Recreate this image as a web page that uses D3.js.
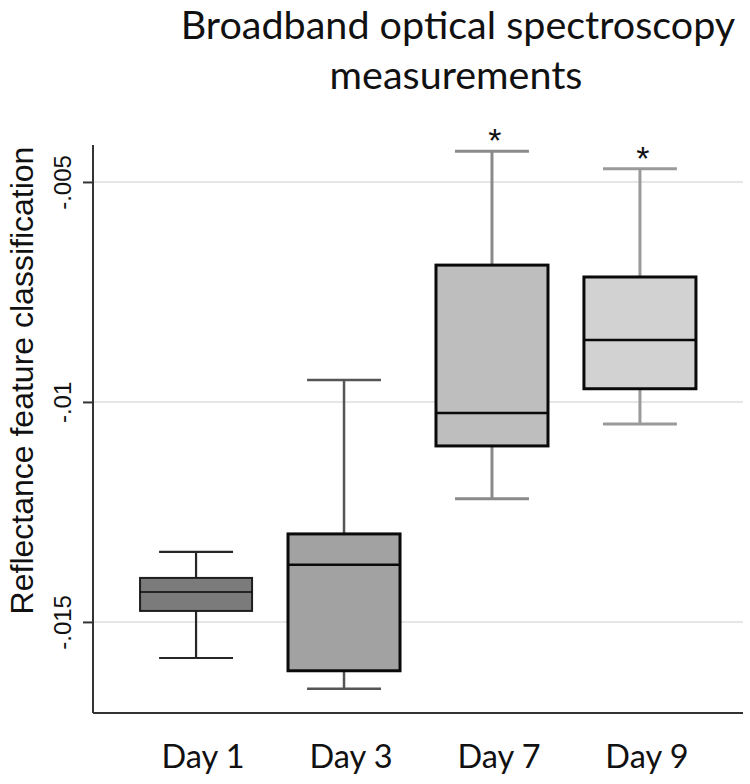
<!DOCTYPE html>
<html>
<head>
<meta charset="utf-8">
<script src="https://cdn.jsdelivr.net/npm/d3@7"></script>
<style>
  html, body { margin: 0; padding: 0; background: #fff; }
  svg { display: block; }
</style>
</head>
<body>
<svg id="chart" width="750" height="784"></svg>
<script>
// ---- data ----
const categories = ["Day 1", "Day 3", "Day 7", "Day 9"];
const whiskerLow  = [-0.01582, -0.01652, -0.01220, -0.01050];
const q1          = [-0.01475, -0.01611, -0.01100, -0.00970];
const medians     = [-0.01432, -0.01370, -0.01025, -0.00859];
const q3          = [-0.01400, -0.01300, -0.00689, -0.00716];
const whiskerHigh = [-0.01341, -0.00950, -0.00430, -0.00470];
const significant = [false, false, true, true];
const tickValues  = [-0.005, -0.01, -0.015];
const tickLabels  = ["-.005", "-.01", "-.015"];
const titleLines  = ["Broadband optical spectroscopy", "measurements"];
const yTitle      = "Reflectance feature classification";

// ---- styles ----
const boxFill      = ["#7b7b7b", "#a2a2a2", "#bebebe", "#d2d2d2"];
const boxStroke    = ["#1e1e1e", "#0a0a0a", "#0a0a0a", "#0a0a0a"];
const boxStrokeW   = [2, 3, 3, 3];
const whiskerColor = ["#262626", "#555555", "#8a8a8a", "#9a9a9a"];
const whiskerW     = [2.2, 2.5, 3, 3];

const svg = d3.select("#chart");
const pL = 93, pR = 743, pT = 145, pB = 713;

const y = d3.scaleLinear().domain([-0.01707, -0.00416]).range([pB, pT]);
const x = d3.scaleBand().domain(categories).range([pL, pR])
  .paddingInner(0.243).paddingOuter(0.318);
const bw = x.bandwidth();
const capW = bw * 0.66;

// gridlines
svg.append("g").selectAll("line").data(tickValues).join("line")
  .attr("x1", pL).attr("x2", pR)
  .attr("y1", d => y(d)).attr("y2", d => y(d))
  .attr("stroke", "#e6e6e6").attr("stroke-width", 2);

// y axis
const yAxis = d3.axisLeft(y).tickValues(tickValues)
  .tickFormat((d, i) => tickLabels[i]).tickSize(10).tickPadding(0);
const gy = svg.append("g").attr("transform", `translate(${pL},0)`).call(yAxis);
gy.select(".domain").attr("stroke", "#333").attr("stroke-width", 2)
  .attr("d", `M0,${pT}V${pB}`);
gy.selectAll(".tick line").attr("stroke", "#333").attr("stroke-width", 2);
gy.selectAll(".tick text")
  .attr("font-family", "'Liberation Sans', Arial, sans-serif")
  .attr("font-size", 24).attr("fill", "#111")
  .attr("text-anchor", "middle")
  .attr("x", null).attr("dy", null)
  .attr("transform", "translate(-22,0) rotate(-90)");

// x axis
const xAxis = d3.axisBottom(x).tickSize(0).tickPadding(0);
const gx = svg.append("g").attr("transform", `translate(0,${pB})`).call(xAxis);
gx.select(".domain").attr("stroke", "#333").attr("stroke-width", 2)
  .attr("d", `M${pL},0H${pR}`);
gx.selectAll(".tick text")
  .attr("font-family", "Lato, 'Open Sans', sans-serif")
  .attr("font-size", 32.5).attr("fill", "#111")
  .attr("x", 7).attr("y", 55).attr("dy", null);

// boxes
const idx = d3.range(categories.length);
const g = svg.append("g").selectAll("g").data(idx).join("g")
  .attr("transform", i => `translate(${x(categories[i]) + bw / 2},0)`);

// whiskers
g.append("line").attr("x1", 0).attr("x2", 0)
  .attr("y1", i => y(whiskerHigh[i])).attr("y2", i => y(q3[i]))
  .attr("stroke", i => whiskerColor[i]).attr("stroke-width", i => whiskerW[i]);
g.append("line").attr("x1", 0).attr("x2", 0)
  .attr("y1", i => y(q1[i])).attr("y2", i => y(whiskerLow[i]))
  .attr("stroke", i => whiskerColor[i]).attr("stroke-width", i => whiskerW[i]);
g.append("line").attr("x1", -capW / 2).attr("x2", capW / 2)
  .attr("y1", i => y(whiskerHigh[i])).attr("y2", i => y(whiskerHigh[i]))
  .attr("stroke", i => whiskerColor[i]).attr("stroke-width", i => whiskerW[i]);
g.append("line").attr("x1", -capW / 2).attr("x2", capW / 2)
  .attr("y1", i => y(whiskerLow[i])).attr("y2", i => y(whiskerLow[i]))
  .attr("stroke", i => whiskerColor[i]).attr("stroke-width", i => whiskerW[i]);

// box
g.append("rect").attr("x", -bw / 2).attr("width", bw)
  .attr("y", i => y(q3[i])).attr("height", i => y(q1[i]) - y(q3[i]))
  .attr("fill", i => boxFill[i]).attr("stroke", i => boxStroke[i])
  .attr("stroke-width", i => boxStrokeW[i]);
// median
g.append("line").attr("x1", -bw / 2).attr("x2", bw / 2)
  .attr("y1", i => y(medians[i])).attr("y2", i => y(medians[i]))
  .attr("stroke", "#0a0a0a").attr("stroke-width", i => boxStrokeW[i] * 0.85);

// significance asterisks
g.filter(i => significant[i]).append("text")
  .attr("x", 3).attr("y", i => y(whiskerHigh[i]) + 1)
  .attr("text-anchor", "middle")
  .attr("font-family", "'Liberation Sans', Arial, sans-serif")
  .attr("font-size", 34).attr("fill", "#111").text("*");

// title
svg.append("text").attr("x", 458).attr("y", 39).attr("text-anchor", "middle")
  .attr("font-family", "Lato, 'Open Sans', sans-serif").attr("font-size", 39.5)
  .attr("fill", "#111").text(titleLines[0]);
svg.append("text").attr("x", 456).attr("y", 89).attr("text-anchor", "middle")
  .attr("font-family", "Lato, 'Open Sans', sans-serif").attr("font-size", 39.5)
  .attr("fill", "#111").text(titleLines[1]);

// y title
svg.append("text")
  .attr("transform", `translate(33,${(148 + 613) / 2}) rotate(-90)`)
  .attr("text-anchor", "middle")
  .attr("font-family", "'Liberation Sans', Arial, sans-serif")
  .attr("font-size", 32).attr("fill", "#111").text(yTitle);
</script>
</body>
</html>
